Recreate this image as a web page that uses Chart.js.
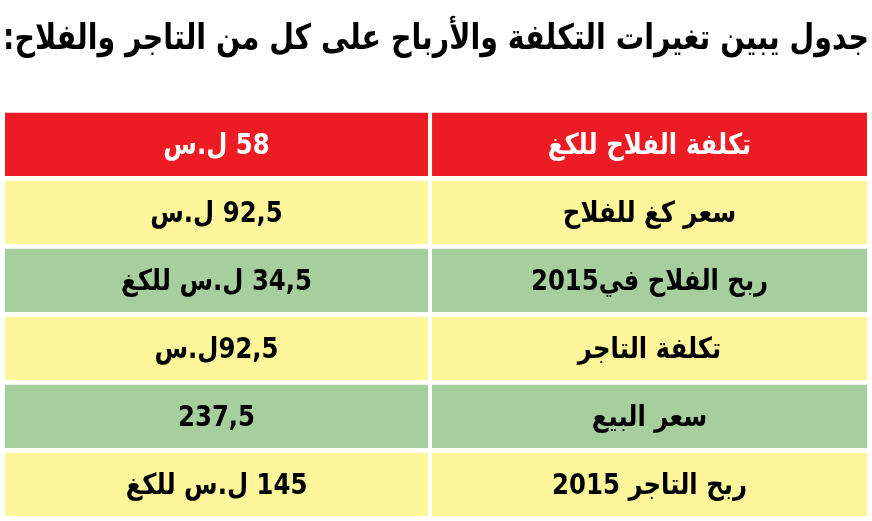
<!DOCTYPE html>
<html lang="ar">
<head>
<meta charset="utf-8">
<script src="https://cdn.jsdelivr.net/npm/chart.js@4/dist/chart.umd.min.js"></script>
<style>
  html, body { margin: 0; padding: 0; background: #ffffff; }
  #wrap { width: 872px; height: 521px; position: relative; }
  canvas { direction: rtl; }
</style>
</head>
<body>
<div id="wrap"><canvas id="c" dir="rtl"></canvas></div>
<script>
// ---- data ----
const titleText = 'جدول يبين تغيرات التكلفة والأرباح على كل من التاجر والفلاح:';
const rowLabels = [
  'تكلفة الفلاح للكغ',
  'سعر كغ للفلاح',
  'ربح الفلاح في2015',
  'تكلفة التاجر',
  'سعر البيع',
  'ربح التاجر 2015'
];
const rowValues = [
  '58 ل.س',
  '92,5 ل.س',
  '34,5 ل.س للكغ',
  '92,5ل.س',
  '237,5',
  '145 ل.س للكغ'
];

// ---- style ----
const RED = '#ED1C24', YELLOW = '#FFF59A', GREEN = '#A6CF9D';
const rowColors = [RED, YELLOW, GREEN, YELLOW, GREEN, YELLOW];
const textColors = ['#ffffff', '#000000', '#000000', '#000000', '#000000', '#000000'];
const SPLIT = 0.4931; // column boundary on the x scale (layout)
const CELL_FONT = 'bold 29px "DejaVu Sans", sans-serif';
const CELL_SCALE_X = 0.84;

const cellText = {
  id: 'cellText',
  afterDatasetsDraw(chart) {
    const ctx = chart.ctx;
    chart.data.datasets.forEach((ds, di) => {
      const meta = chart.getDatasetMeta(di);
      meta.data.forEach((bar, i) => {
        const cx = (bar.x + bar.base) / 2;
        ctx.save();
        ctx.direction = 'rtl';
        ctx.textAlign = 'center';
        ctx.textBaseline = 'middle';
        ctx.font = CELL_FONT;
        ctx.fillStyle = textColors[i];
        ctx.translate(cx, bar.y + 2);
        ctx.scale(CELL_SCALE_X, 1);
        ctx.fillText(ds.texts[i], 0, 0);
        ctx.restore();
      });
    });
  }
};

const common = {
  backgroundColor: rowColors,
  borderColor: '#ffffff',
  borderWidth: { left: 2, right: 2, top: 0, bottom: 0 },
  borderSkipped: false,
  grouped: false,
  barPercentage: 1,
  categoryPercentage: 0.934
};

new Chart(document.getElementById('c'), {
  type: 'bar',
  data: {
    labels: rowLabels,
    datasets: [
      Object.assign({ label: 'value', data: rowValues.map(() => [0, SPLIT]), texts: rowValues }, common),
      Object.assign({ label: 'item', data: rowLabels.map(() => [SPLIT, 1]), texts: rowLabels }, common)
    ]
  },
  options: {
    indexAxis: 'y',
    responsive: true,
    maintainAspectRatio: false,
    animation: false,
    layout: { padding: { left: 3, right: 3, top: 0, bottom: 2.7 } },
    scales: {
      x: { type: 'linear', min: 0, max: 1, display: false },
      y: { type: 'category', display: false, offset: true }
    },
    plugins: {
      legend: { display: false },
      tooltip: { enabled: false },
      title: {
        display: true,
        text: titleText,
        color: '#000000',
        font: { family: '"DejaVu Sans", sans-serif', size: 35, weight: 'bold', lineHeight: 1.2 },
        padding: { top: 19, bottom: 49.3 }
      }
    }
  },
  plugins: [cellText]
});
</script>
</body>
</html>
